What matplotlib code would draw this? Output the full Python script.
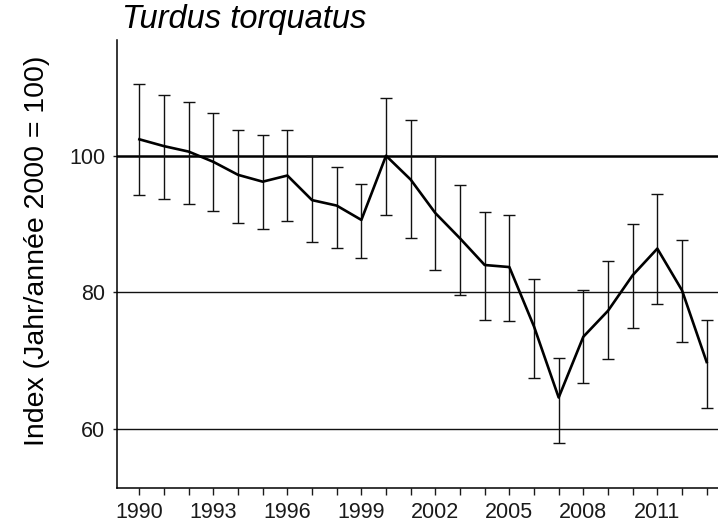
import matplotlib
matplotlib.use("Agg")
import matplotlib.pyplot as plt

plt.rcParams['font.family'] = ['Liberation Sans', 'DejaVu Sans']

years = list(range(1990, 2014))
index = [102.4, 101.4, 100.6, 99.1, 97.2, 96.2, 97.1, 93.5, 92.7, 90.6, 100.0, 96.5,
         91.6, 87.9, 84.0, 83.7, 75.0, 64.6, 73.5, 77.3, 82.5, 86.4, 80.3, 69.8]
upper = [110.5, 108.9, 107.8, 106.2, 103.8, 103.0, 103.8, 100.0, 98.4, 95.9, 108.4, 105.3,
         100.0, 95.7, 91.8, 91.3, 81.9, 70.4, 80.4, 84.6, 90.0, 94.4, 87.6, 76.0]
lower = [94.2, 93.6, 93.0, 91.9, 90.2, 89.2, 90.4, 87.3, 86.5, 85.0, 91.3, 88.0,
         83.2, 79.6, 76.0, 75.8, 67.5, 57.9, 66.7, 70.2, 74.8, 78.3, 72.8, 63.0]
label_years = list(range(1990, 2012, 3))
y_ticks = [60, 80, 100]

fig = plt.figure(figsize=(7.18, 5.28), dpi=100)
ax = fig.add_axes([116.7/718, 1 - 487.7/528, 1 - 116.7/718, (487.7 - 40)/528])

# reference lines
ax.axhline(60, color='#111111', lw=1.0, zorder=1)
ax.axhline(80, color='#111111', lw=1.0, zorder=1)
ax.axhline(100, color='black', lw=1.8, zorder=1)

err_lo = [i - l for i, l in zip(index, lower)]
err_hi = [u - i for i, u in zip(index, upper)]
ax.errorbar(years, index, yerr=[err_lo, err_hi], fmt='none', ecolor='#111111',
            elinewidth=1.0, capsize=4, capthick=1.0, zorder=2)
ax.plot(years, index, color='black', lw=1.9, zorder=3)

ax.set_xlim(1989.08, 2013.46)
ax.set_ylim(51.4, 116.94)

ax.set_xticks(years)
ax.set_xticklabels([str(y) if y in label_years else '' for y in years])
ax.set_yticks(y_ticks)
ax.set_yticklabels([str(v) for v in y_ticks])

ax.tick_params(axis='x', length=5.3, width=1.0, pad=5, labelsize=15.5, colors='#1a1a1a')
ax.tick_params(axis='y', length=3.1, width=1.0, pad=5, labelsize=15.5, colors='#1a1a1a')

for s in ['top', 'right']:
    ax.spines[s].set_visible(False)
for s in ['left', 'bottom']:
    ax.spines[s].set_linewidth(1.1)

fig.text(122/718, 1 - 28/528, 'Turdus torquatus', fontsize=23.5, style='italic',
         ha='left', va='baseline')
fig.text(37/718, 1 - 251/528, 'Index (Jahr/année 2000 = 100)', fontsize=20.5,
         rotation=90, ha='center', va='center')

fig.savefig('out.png', dpi=100)
